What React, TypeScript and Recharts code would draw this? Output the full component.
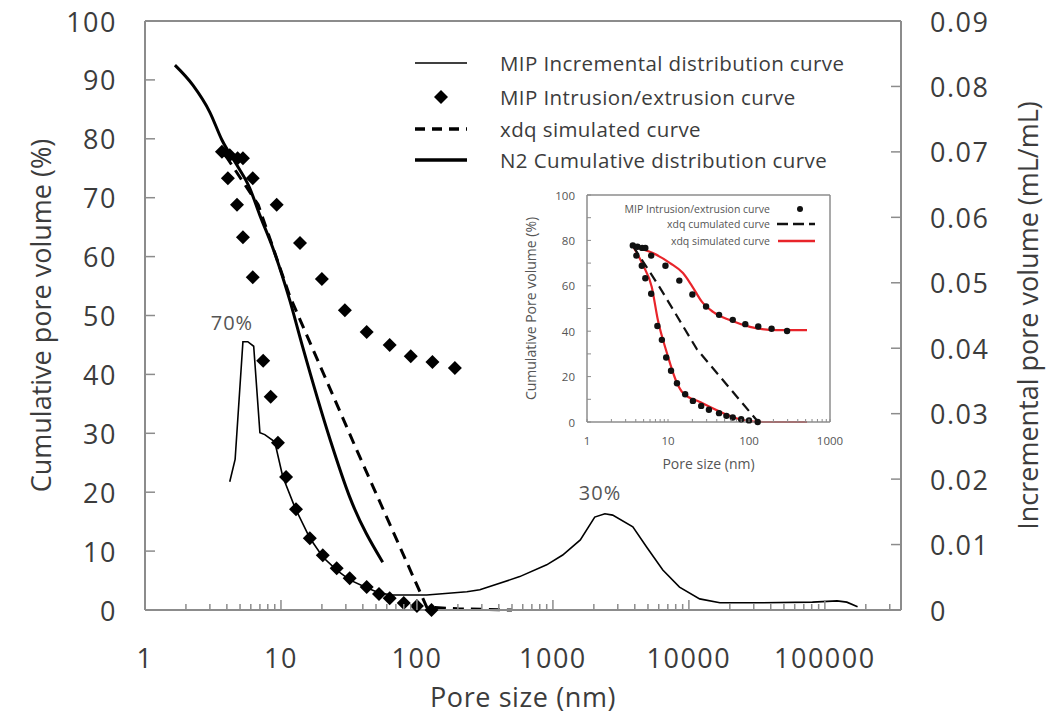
import React from 'react';
import { ComposedChart, Line, Scatter, XAxis, YAxis, ReferenceLine, ReferenceDot, Legend } from 'recharts';

// ---------- data (pore size nm, value) ----------
const n2Cumulative = [
  [1.66, 92.5], [2.25, 89.1], [3.0, 84.5], [3.68, 79.8], [4.75, 75.5], [5.9, 71.6],
  [7.0, 67], [8.7, 61.5], [11.6, 52.6], [14.3, 45], [23, 28.9], [32, 19.2], [56, 8.1],
];
const xdqSimulated = [
  [3.9, 77.2], [6.8, 68.8], [11.6, 53.3], [36, 27.2], [118, 0.5], [200, 0.2], [500, 0],
];
const mipUpper = [
  [3.68, 77.8], [4.2, 77.2], [4.8, 76.7], [5.25, 76.7], [6.2, 73.3], [9.3, 68.8], [13.8, 62.3],
  [20, 56.2], [29.5, 50.9], [42.7, 47.2], [63, 45], [90, 43.1], [130, 42.1], [190, 41.1],
];
const mipLower = [
  [4.07, 73.3], [4.75, 68.8], [5.25, 63.3], [6.2, 56.5], [7.4, 42.3], [8.4, 36.2], [9.5, 28.4],
  [10.9, 22.6], [12.9, 17.1], [16.3, 12.2], [20.3, 9.3], [25.7, 7.1], [32, 5.4], [42.7, 3.9],
  [52.6, 2.7], [63, 2.0], [80, 1.2], [100, 0.7], [128, 0],
];
const mipIncremental = [
  [4.2, 0.0196], [4.6, 0.023], [5.25, 0.041], [5.7, 0.041], [6.3, 0.0403], [7.0, 0.0271],
  [7.6, 0.0268], [9.0, 0.0257], [10.3, 0.0204], [12.7, 0.0156], [16.3, 0.011], [20.3, 0.0081],
  [25.7, 0.0061], [32, 0.0046], [42.7, 0.0034], [53, 0.0026], [66, 0.0023], [118, 0.0023],
  [233, 0.0028], [290, 0.0031], [570, 0.0051], [900, 0.0069], [1180, 0.0084], [1590, 0.0107],
  [2030, 0.0142], [2410, 0.0147], [2750, 0.0145], [3870, 0.0127], [4900, 0.0096], [6430, 0.0061],
  [8530, 0.0035], [12000, 0.0017], [16900, 0.0011], [35000, 0.0011], [81000, 0.0012],
  [123000, 0.0014], [145000, 0.0012], [174000, 0.0005],
];

// inset
const insetMipExtra = [[295, 40.1]];
const insetRedUpper = [
  [3.7, 77.5], [6.5, 74.4], [10.6, 70], [15.3, 65.6], [19.8, 59.9], [26.3, 52.9], [36, 48.5],
  [58, 44.9], [103, 41.9], [220, 40.5], [520, 40.5],
];
const insetRedLower = [
  [3.7, 77.5], [4.9, 69.2], [6.3, 59.5], [7.5, 44.9], [9.7, 30.4], [12.9, 17.2], [15.3, 12.8],
  [24.8, 8.8], [47.5, 4], [84, 0.9], [150, 0], [520, 0],
];
const insetCumulated = [[3.7, 77.5], [8, 59], [22.8, 32], [130, 0]];

// ticks
const mainMajorTicks = [1, 10, 100, 1000, 10000, 100000];
const insetMajorTicks = [1, 10, 100, 1000];
const minorMultipliers = [2, 3, 4, 5, 6, 7, 8, 9];
const leftTicks = [0, 10, 20, 30, 40, 50, 60, 70, 80, 90, 100];
const rightTicks = [0, 0.01, 0.02, 0.03, 0.04, 0.05, 0.06, 0.07, 0.08, 0.09];
const rightTickLabels = ['0', '0.01', '0.02', '0.03', '0.04', '0.05', '0.06', '0.07', '0.08', '0.09'];
const insetYTicks = [0, 10, 20, 30, 40, 50, 60, 70, 80, 90, 100];
const insetYLabels = [0, 20, 40, 60, 80, 100];

const legendMain = [
  'MIP Incremental distribution curve',
  'MIP Intrusion/extrusion curve',
  'xdq simulated curve',
  'N2 Cumulative distribution curve',
];
const legendInset = ['MIP Intrusion/extrusion curve', 'xdq cumulated curve', 'xdq simulated curve'];

const X_MAX = 363000;
const FONT = "'Open Sans', sans-serif";
const TEXT = '#3c3c3c';
const AXIS = '#8c8c8c';
const RED = '#e8242a';
const TICK_FS = 27;
const TICK_LS = 1.5;
const TITLE_FS = 27;

const pts = (a: number[][]) => a.map(([x, y]) => ({ x, y }));
const mainTicks = mainMajorTicks
  .flatMap((m) => [m, ...minorMultipliers.map((k) => k * m)])
  .filter((v) => v <= X_MAX);
const insetTicks = insetMajorTicks
  .flatMap((m) => (m === 1000 ? [m] : [m, ...minorMultipliers.map((k) => k * m)]));

const MainXTick = (p: any) => {
  const { x, y, payload } = p;
  const major = mainMajorTicks.includes(payload.value);
  return (
    <g>
      <line x1={x} x2={x} y1={y} y2={y - (major ? 10 : 6)} stroke={AXIS} strokeWidth={1.5} />
      {major && (
        <text x={x} y={y + 47} textAnchor="middle" dominantBaseline="central" fontFamily={FONT} fontSize={TICK_FS} letterSpacing={TICK_LS} fill={TEXT}>
          {String(payload.value)}
        </text>
      )}
    </g>
  );
};
const LeftTick = (p: any) => {
  const { x, y, payload } = p;
  return (
    <g>
      <line x1={x} x2={x + 10} y1={y} y2={y} stroke={AXIS} strokeWidth={1.5} />
      <text x={x - 28} y={y} textAnchor="end" dominantBaseline="central" fontFamily={FONT} fontSize={TICK_FS} letterSpacing={TICK_LS} fill={TEXT}>
        {String(payload.value)}
      </text>
    </g>
  );
};
const RightTick = (p: any) => {
  const { x, y, payload, index } = p;
  return (
    <g>
      <line x1={x} x2={x - 10} y1={y} y2={y} stroke={AXIS} strokeWidth={1.5} />
      <text x={x + 29} y={y} textAnchor="start" dominantBaseline="central" fontFamily={FONT} fontSize={TICK_FS} letterSpacing={TICK_LS} fill={TEXT}>
        {rightTickLabels[index] ?? String(payload.value)}
      </text>
    </g>
  );
};

const Diamond = (p: any) => {
  const { cx, cy } = p;
  const h = 7;
  return <polygon points={`${cx},${cy - h} ${cx + h},${cy} ${cx},${cy + h} ${cx - h},${cy}`} fill="#000" />;
};
const Dot = (p: any) => <circle cx={p.cx} cy={p.cy} r={3.2} fill="#111" />;

const MainLegend = () => (
  <svg width={1060} height={200} style={{ position: 'absolute', left: 0, top: 0, overflow: 'visible' }}>
    {legendMain.map((t, i) => {
      const y = [63, 97, 129, 160][i];
      return (
        <g key={t}>
          {i === 0 && <line x1={415} x2={467} y1={y} y2={y} stroke="#000" strokeWidth={1.5} />}
          {i === 1 && <Diamond cx={441} cy={y} />}
          {i === 2 && <line x1={415} x2={467} y1={y} y2={y} stroke="#000" strokeWidth={3.5} strokeDasharray="10 7" />}
          {i === 3 && <line x1={415} x2={467} y1={y} y2={y} stroke="#000" strokeWidth={3.5} />}
          <text x={500} y={y} dominantBaseline="central" fontFamily={FONT} fontSize={20.5} letterSpacing={0.4} fill={TEXT}>{t}</text>
        </g>
      );
    })}
  </svg>
);

const InsetLegend = () => (
  <svg width={350} height={300} style={{ position: 'absolute', left: 0, top: 0, overflow: 'visible' }}>
    {legendInset.map((t, i) => {
      const y = [29, 44, 61][i];
      return (
        <g key={t}>
          <text x={270} y={y} textAnchor="end" dominantBaseline="central" fontFamily={FONT} fontSize={10.5} fill="#555">{t}</text>
          {i === 0 && <circle cx={300} cy={y} r={3} fill="#111" />}
          {i === 1 && <line x1={277} x2={315} y1={y} y2={y} stroke="#111" strokeWidth={2.5} strokeDasharray="11 5" />}
          {i === 2 && <line x1={278} x2={315} y1={y} y2={y} stroke={RED} strokeWidth={2.5} />}
        </g>
      );
    })}
  </svg>
);

const InsetXTick = (p: any) => {
  const { x, y, payload } = p;
  const major = insetMajorTicks.includes(payload.value);
  return (
    <g>
      <line x1={x} x2={x} y1={y} y2={y - 3} stroke={AXIS} strokeWidth={1} />
      {major && (
        <text x={x} y={y + 18} textAnchor="middle" dominantBaseline="central" fontFamily={FONT} fontSize={11.5} fill="#555">
          {String(payload.value)}
        </text>
      )}
    </g>
  );
};
const InsetYTick = (p: any) => {
  const { x, y, payload } = p;
  const lab = insetYLabels.includes(payload.value);
  return (
    <g>
      <line x1={x} x2={x + 4} y1={y} y2={y} stroke={AXIS} strokeWidth={1} />
      {lab && (
        <text x={x - 12} y={y} textAnchor="end" dominantBaseline="central" fontFamily={FONT} fontSize={11.5} fill="#555">
          {String(payload.value)}
        </text>
      )}
    </g>
  );
};

const Inset = () => (
  <div style={{ position: 'absolute', left: 500, top: 180 }}>
    <ComposedChart width={350} height={300} margin={{ top: 15, right: 20, bottom: 0, left: 0 }}>
      <XAxis
        type="number" dataKey="x" scale="log" domain={[1, 1000]} allowDataOverflow
        ticks={insetTicks} interval={0} tick={<InsetXTick />} tickLine={false} tickSize={0} tickMargin={0}
        axisLine={{ stroke: AXIS, strokeWidth: 1.5 }} height={58}
        label={(lp: any) => {
          const vb = lp.viewBox;
          return (
            <text x={vb.x + vb.width / 2} y={vb.y + 41} textAnchor="middle" dominantBaseline="central" fontFamily={FONT} fontSize={14} fill="#555">
              Pore size (nm)
            </text>
          );
        }}
      />
      <YAxis
        type="number" domain={[0, 100]} ticks={insetYTicks} interval={0} tick={<InsetYTick />}
        tickLine={false} tickSize={0} tickMargin={0} axisLine={{ stroke: AXIS, strokeWidth: 1.5 }} width={87}
        label={(lp: any) => {
          const vb = lp.viewBox;
          const cx = vb.x + 30;
          const cy = vb.y + vb.height / 2;
          return (
            <text x={cx} y={cy} transform={`rotate(-90 ${cx} ${cy})`} textAnchor="middle" dominantBaseline="central" fontFamily={FONT} fontSize={14} fill="#555">
              Cumulative Pore volume (%)
            </text>
          );
        }}
      />
      <ReferenceLine y={100} stroke={AXIS} strokeWidth={1.5} />
      <ReferenceLine x={1000} stroke={AXIS} strokeWidth={1.5} />
      <Line data={pts(insetRedUpper)} dataKey="y" type="monotone" stroke={RED} strokeWidth={2.2} dot={false} isAnimationActive={false} />
      <Line data={pts(insetRedLower)} dataKey="y" type="monotone" stroke={RED} strokeWidth={2.2} dot={false} isAnimationActive={false} />
      <Line data={pts(insetCumulated)} dataKey="y" type="linear" stroke="#111" strokeWidth={2.2} strokeDasharray="10 6" dot={false} isAnimationActive={false} />
      <Scatter data={pts([...mipUpper, ...insetMipExtra])} dataKey="y" shape={<Dot />} isAnimationActive={false} />
      <Scatter data={pts(mipLower)} dataKey="y" shape={<Dot />} isAnimationActive={false} />
      <Legend layout="vertical" verticalAlign="middle" align="center" content={() => <InsetLegend />}
        wrapperStyle={{ position: 'absolute', left: 0, top: 0, width: 350, height: 300, pointerEvents: 'none' }} />
    </ComposedChart>
  </div>
);

export default function App() {
  return (
    <div style={{ position: 'absolute', left: 0, top: 0, width: 1060, height: 718, background: '#fff' }}>
      <ComposedChart width={1060} height={718} margin={{ top: 21, right: 0, bottom: 0, left: 0 }}>
        <XAxis
          type="number" dataKey="x" scale="log" domain={[1, X_MAX]} allowDataOverflow
          ticks={mainTicks} interval={0} tick={<MainXTick />} tickLine={false} tickSize={0} tickMargin={0}
          axisLine={{ stroke: AXIS, strokeWidth: 2 }} height={108}
          label={(lp: any) => {
            const vb = lp.viewBox;
            return (
              <text x={vb.x + vb.width / 2} y={vb.y + 86} textAnchor="middle" dominantBaseline="central" fontFamily={FONT} fontSize={TITLE_FS} letterSpacing={0.6} fill={TEXT}>
                Pore size (nm)
              </text>
            );
          }}
        />
        <YAxis
          yAxisId="l" type="number" domain={[0, 100]} ticks={leftTicks} interval={0} tick={<LeftTick />}
          tickLine={false} tickSize={0} tickMargin={0} axisLine={{ stroke: AXIS, strokeWidth: 2 }} width={145}
          label={(lp: any) => {
            const vb = lp.viewBox;
            const cx = vb.x + 40;
            const cy = vb.y + vb.height / 2;
            return (
              <text x={cx} y={cy} transform={`rotate(-90 ${cx} ${cy})`} textAnchor="middle" dominantBaseline="central" fontFamily={FONT} fontSize={TITLE_FS} fill={TEXT}>
                Cumulative pore volume (%)
              </text>
            );
          }}
        />
        <YAxis
          yAxisId="r" orientation="right" type="number" domain={[0, 0.09]} ticks={rightTicks} interval={0}
          tick={<RightTick />} tickLine={false} tickSize={0} tickMargin={0} axisLine={{ stroke: AXIS, strokeWidth: 2 }} width={159}
          label={(lp: any) => {
            const vb = lp.viewBox;
            const cx = vb.x + 126;
            const cy = vb.y + vb.height / 2;
            return (
              <text x={cx} y={cy} transform={`rotate(-90 ${cx} ${cy})`} textAnchor="middle" dominantBaseline="central" fontFamily={FONT} fontSize={TITLE_FS} fill={TEXT}>
                Incremental pore volume (mL/mL)
              </text>
            );
          }}
        />
        <ReferenceLine yAxisId="l" y={100} stroke={AXIS} strokeWidth={2} />
        <Line yAxisId="r" data={pts(mipIncremental)} dataKey="y" type="linear" stroke="#000" strokeWidth={1.6} dot={false} isAnimationActive={false} />
        <Line yAxisId="l" data={pts(n2Cumulative)} dataKey="y" type="monotone" stroke="#000" strokeWidth={3} dot={false} isAnimationActive={false} />
        <Line yAxisId="l" data={pts(xdqSimulated)} dataKey="y" type="linear" stroke="#000" strokeWidth={3} strokeDasharray="11 7" dot={false} isAnimationActive={false} />
        <Scatter yAxisId="l" data={pts(mipUpper)} dataKey="y" shape={<Diamond />} isAnimationActive={false} />
        <Scatter yAxisId="l" data={pts(mipLower)} dataKey="y" shape={<Diamond />} isAnimationActive={false} />
        <ReferenceDot yAxisId="r" x={4.36} y={0.0439} r={0} fill="none" stroke="none"
          label={{ value: '70%', position: 'center', fontSize: 20, letterSpacing: 1, fill: '#555', fontFamily: FONT }} />
        <ReferenceDot yAxisId="r" x={2220} y={0.0179} r={0} fill="none" stroke="none"
          label={{ value: '30%', position: 'center', fontSize: 20, letterSpacing: 1, fill: '#555', fontFamily: FONT }} />
        <Legend layout="vertical" verticalAlign="middle" align="center" content={() => <MainLegend />}
          wrapperStyle={{ position: 'absolute', left: 0, top: 0, width: 1060, height: 200, pointerEvents: 'none' }} />
      </ComposedChart>
      <Inset />
    </div>
  );
}
